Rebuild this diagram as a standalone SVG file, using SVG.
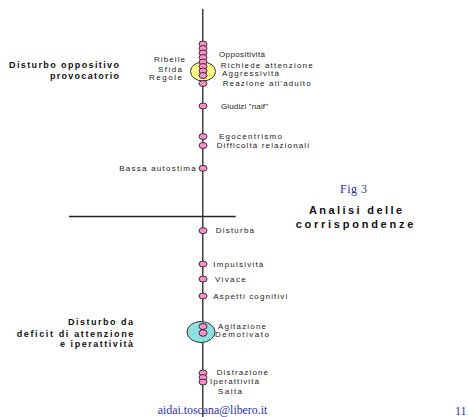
<svg xmlns="http://www.w3.org/2000/svg" width="469" height="417" viewBox="0 0 469 417">
<defs>
<style>
.lbl{font-family:"Liberation Sans",Arial,sans-serif;font-size:8px;fill:#222}
.ttl{font-family:"Liberation Sans",Arial,sans-serif;font-size:9px;font-weight:bold;fill:#111}
.big{font-family:"Liberation Sans",Arial,sans-serif;font-size:11px;font-weight:bold;fill:#111}
.blue{font-family:"Liberation Serif","Times New Roman",serif;font-size:12px;fill:#2d2db8}
.bead{fill:#ff8ccc;stroke:#333;stroke-width:1}
.axis{stroke:#222;stroke-width:1.3;fill:none}
</style>
</defs>
<rect width="469" height="417" fill="#fff"/>
<g id="connectors">
<line class="axis" x1="202.8" y1="9" x2="202.8" y2="417"/>
<line class="axis" x1="69" y1="216.5" x2="235.7" y2="216.5" stroke-width="1"/>
</g>
<g id="cluster-odd">
<ellipse cx="203" cy="71.5" rx="12.5" ry="9.5" fill="#ffff88" stroke="#333" stroke-width="1"/>
<ellipse class="bead" cx="203" cy="44" rx="4" ry="3"/>
<ellipse class="bead" cx="203" cy="48.5" rx="4" ry="3"/>
<ellipse class="bead" cx="203" cy="53" rx="4" ry="3"/>
<ellipse class="bead" cx="203" cy="57.5" rx="4" ry="3"/>
<ellipse class="bead" cx="203" cy="62" rx="4" ry="3"/>
<ellipse class="bead" cx="203" cy="66.5" rx="4" ry="3"/>
<ellipse class="bead" cx="203" cy="71" rx="4" ry="3"/>
<ellipse class="bead" cx="203" cy="75.5" rx="4" ry="3"/>
<ellipse class="bead" cx="203" cy="83.5" rx="4" ry="3"/>
<text class="lbl" x="154" y="62" textLength="31" lengthAdjust="spacing">Ribelle</text>
<text class="lbl" x="158" y="71.7" textLength="24" lengthAdjust="spacing">Sfida</text>
<text class="lbl" x="149" y="80.3" textLength="33" lengthAdjust="spacing">Regole</text>
<text class="lbl" x="219" y="57.3" textLength="46" lengthAdjust="spacing">Oppositività</text>
<text class="lbl" x="220.7" y="67.7" textLength="92" lengthAdjust="spacing">Richiede attenzione</text>
<text class="lbl" x="222" y="76" textLength="57" lengthAdjust="spacing">Aggressività</text>
<text class="lbl" x="222.7" y="85.7" textLength="88" lengthAdjust="spacing">Reazione all'adulto</text>
</g>
<g id="title-odd">
<text class="ttl" x="9" y="68.3" textLength="110" lengthAdjust="spacing">Disturbo oppositivo</text>
<text class="ttl" x="50" y="79.3" textLength="69" lengthAdjust="spacing">provocatorio</text>
</g>
<g id="n-giudizi">
<ellipse class="bead" cx="203" cy="106" rx="4" ry="3"/>
<text class="lbl" x="221" y="109" textLength="47" lengthAdjust="spacing">Giudizi "naif"</text>
</g>
<g id="n-egocentrismo">
<ellipse class="bead" cx="203" cy="136.5" rx="4" ry="3"/>
<text class="lbl" x="219" y="139" textLength="63" lengthAdjust="spacing">Egocentrismo</text>
</g>
<g id="n-difficolta">
<ellipse class="bead" cx="203" cy="145.5" rx="4" ry="3"/>
<text class="lbl" x="216.7" y="148.3" textLength="92.3" lengthAdjust="spacing">Difficoltà relazionali</text>
</g>
<g id="n-bassa">
<ellipse class="bead" cx="203" cy="168.3" rx="4" ry="3"/>
<text class="lbl" x="119.3" y="170.7" textLength="76.4" lengthAdjust="spacing">Bassa autostima</text>
</g>
<g id="fig-title">
<text class="blue" x="340" y="193" font-size="13" textLength="27" lengthAdjust="spacing">Fig 3</text>
<text class="big" x="309" y="213.5" textLength="93" lengthAdjust="spacing">Analisi delle</text>
<text class="big" x="295.7" y="227.5" textLength="117.6" lengthAdjust="spacing">corrispondenze</text>
</g>
<g id="n-disturba">
<ellipse class="bead" cx="203" cy="230.7" rx="4" ry="3"/>
<text class="lbl" x="215.7" y="233" textLength="38.3" lengthAdjust="spacing">Disturba</text>
</g>
<g id="n-impulsivita">
<ellipse class="bead" cx="203" cy="264" rx="4" ry="3"/>
<text class="lbl" x="213.3" y="266.5" textLength="50" lengthAdjust="spacing">Impulsività</text>
</g>
<g id="n-vivace">
<ellipse class="bead" cx="203" cy="279" rx="4" ry="3"/>
<text class="lbl" x="215" y="281.5" textLength="30.7" lengthAdjust="spacing">Vivace</text>
</g>
<g id="n-aspetti">
<ellipse class="bead" cx="203" cy="296" rx="4" ry="3"/>
<text class="lbl" x="213.3" y="298.5" textLength="74" lengthAdjust="spacing">Aspetti cognitivi</text>
</g>
<g id="cluster-adhd">
<ellipse cx="201" cy="332" rx="14" ry="10.5" fill="#8ee0e0" stroke="#333" stroke-width="1"/>
<ellipse class="bead" cx="203" cy="326.5" rx="4" ry="3"/>
<ellipse class="bead" cx="203" cy="333" rx="4" ry="3.3"/>
<text class="lbl" x="218" y="329" textLength="48" lengthAdjust="spacing">Agitazione</text>
<text class="lbl" x="215" y="337.3" textLength="54" lengthAdjust="spacing">Demotivato</text>
</g>
<g id="title-adhd">
<text class="ttl" x="68" y="325" textLength="65" lengthAdjust="spacing">Disturbo da</text>
<text class="ttl" x="16.7" y="336.7" textLength="116.6" lengthAdjust="spacing">deficit di attenzione</text>
<text class="ttl" x="60" y="346.7" textLength="73" lengthAdjust="spacing">e iperattività</text>
</g>
<g id="cluster-bottom">
<ellipse class="bead" cx="203" cy="373" rx="4" ry="3"/>
<ellipse class="bead" cx="203" cy="377.5" rx="4" ry="3"/>
<ellipse class="bead" cx="203" cy="382" rx="4" ry="3"/>
<text class="lbl" x="216.7" y="375.3" textLength="51.3" lengthAdjust="spacing">Distrazione</text>
<text class="lbl" x="210" y="384" textLength="49" lengthAdjust="spacing">Iperattività</text>
<text class="lbl" x="218" y="394.3" textLength="24" lengthAdjust="spacing">Salta</text>
</g>
<g id="footer">
<text class="blue" x="157.7" y="414" textLength="109.6" lengthAdjust="spacingAndGlyphs">aidai.toscana@libero.it</text>
<text class="blue" x="455" y="414.5">11</text>
</g>
</svg>
